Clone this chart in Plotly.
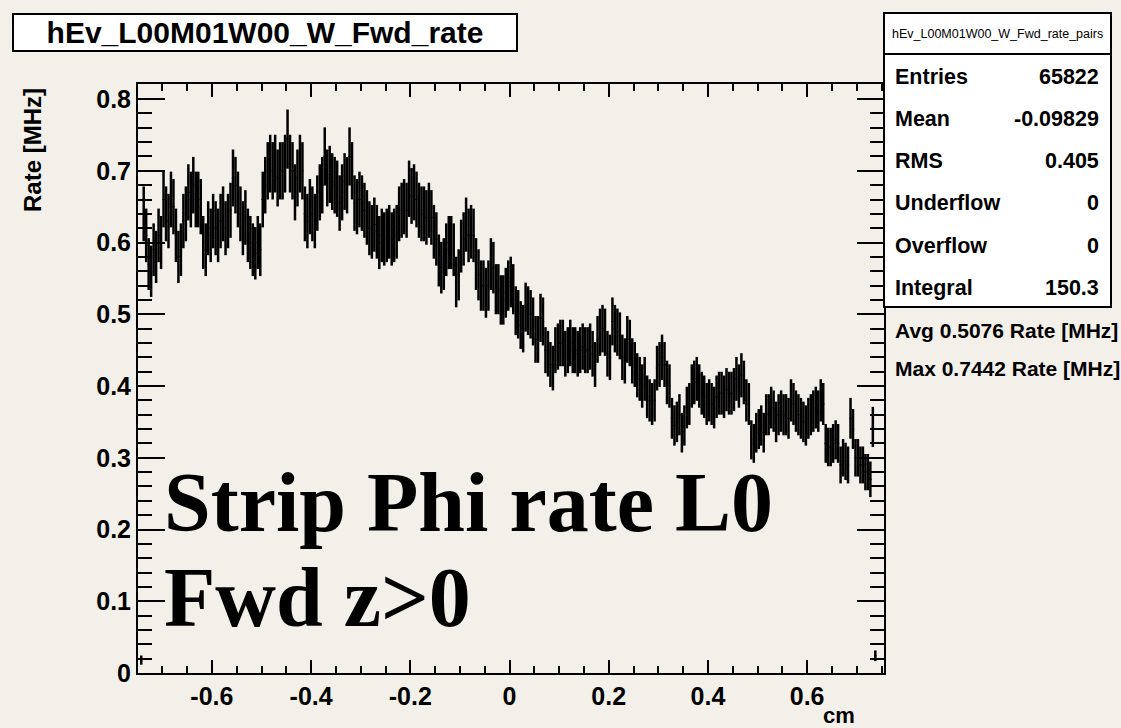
import numpy as np
import plotly.graph_objects as go

# ---- histogram definition ----
hist_name = "hEv_L00M01W00_W_Fwd_rate"
stats_name = "hEv_L00M01W00_W_Fwd_rate_pairs"
x_lo = -0.75
bin_width = 0.005
n_bins = 300

# bin contents (MHz), bin 0 .. bin 299
rate = [
    0.0, 0.018, 0.64, 0.61, 0.57, 0.56, 0.59, 0.58, 0.61, 0.60,
    0.66, 0.64, 0.63, 0.66, 0.65, 0.61, 0.58, 0.59, 0.63, 0.64,
    0.67, 0.66, 0.68, 0.66, 0.66, 0.65, 0.60, 0.59, 0.62, 0.61,
    0.63, 0.62, 0.61, 0.63, 0.64, 0.62, 0.63, 0.645, 0.69, 0.68,
    0.66, 0.64, 0.62, 0.635, 0.61, 0.60, 0.59, 0.585, 0.60, 0.59,
    0.66, 0.68, 0.70, 0.71, 0.70, 0.71, 0.69, 0.70, 0.70, 0.71,
    0.7442, 0.71, 0.70, 0.67, 0.69, 0.71, 0.70, 0.64, 0.63, 0.65,
    0.64, 0.63, 0.655, 0.67, 0.68, 0.72, 0.69, 0.695, 0.685, 0.68,
    0.675, 0.655, 0.67, 0.685, 0.68, 0.72, 0.70, 0.655, 0.65, 0.66,
    0.655, 0.645, 0.635, 0.62, 0.615, 0.625, 0.615, 0.60, 0.61, 0.605,
    0.61, 0.615, 0.605, 0.61, 0.615, 0.64, 0.645, 0.65, 0.645, 0.675,
    0.665, 0.67, 0.66, 0.645, 0.64, 0.64, 0.635, 0.645, 0.635, 0.615,
    0.605, 0.575, 0.565, 0.57, 0.59, 0.60, 0.60, 0.59, 0.545, 0.555,
    0.595, 0.605, 0.625, 0.61, 0.615, 0.61, 0.57, 0.555, 0.54, 0.54,
    0.53, 0.54, 0.57, 0.565, 0.535, 0.535, 0.52, 0.52, 0.53, 0.54,
    0.545, 0.535, 0.505, 0.50, 0.485, 0.48, 0.51, 0.505, 0.50, 0.49,
    0.465, 0.465, 0.495, 0.49, 0.45, 0.445, 0.43, 0.425, 0.45, 0.455,
    0.46, 0.46, 0.445, 0.45, 0.46, 0.45, 0.45, 0.445, 0.45, 0.455,
    0.45, 0.45, 0.455, 0.445, 0.43, 0.465, 0.475, 0.48, 0.475, 0.445,
    0.44, 0.49, 0.48, 0.475, 0.47, 0.44, 0.435, 0.465, 0.46, 0.435,
    0.43, 0.415, 0.41, 0.40, 0.41, 0.385, 0.38, 0.375, 0.38, 0.425,
    0.43, 0.44, 0.43, 0.405, 0.40, 0.355, 0.345, 0.35, 0.36, 0.335,
    0.345, 0.37, 0.375, 0.40, 0.405, 0.41, 0.40, 0.39, 0.385, 0.375,
    0.38, 0.375, 0.37, 0.385, 0.39, 0.39, 0.385, 0.395, 0.39, 0.39,
    0.395, 0.41, 0.40, 0.415, 0.405, 0.38, 0.375, 0.325, 0.32, 0.335,
    0.34, 0.345, 0.335, 0.36, 0.36, 0.37, 0.365, 0.35, 0.36, 0.365,
    0.36, 0.36, 0.355, 0.38, 0.375, 0.365, 0.36, 0.355, 0.35, 0.345,
    0.355, 0.36, 0.365, 0.37, 0.365, 0.38, 0.375, 0.32, 0.315, 0.315,
    0.32, 0.325, 0.32, 0.29, 0.30, 0.295, 0.29, 0.355, 0.34, 0.30,
    0.30, 0.29, 0.29, 0.28, 0.28, 0.27, 0.343, 0.024, 0.0, 0.0,
]

entries = 65822
integral = 150.3

stat_labels = ["Entries", "Mean", "RMS", "Underflow", "Overflow", "Integral"]
stat_values = ["65822", "-0.09829", "0.405", "0", "0", "150.3"]
summary_lines = ["Avg 0.5076 Rate [MHz]", "Max 0.7442 Rate [MHz]"]
caption_lines = ["Strip Phi rate L0", "Fwd z>0"]

x_tick_vals = [-0.6, -0.4, -0.2, 0.0, 0.2, 0.4, 0.6]
x_tick_text = ["-0.6", "-0.4", "-0.2", "0", "0.2", "0.4", "0.6"]
y_tick_vals = [0.0, 0.1, 0.2, 0.3, 0.4, 0.5, 0.6, 0.7, 0.8]
y_tick_text = ["0", "0.1", "0.2", "0.3", "0.4", "0.5", "0.6", "0.7", "0.8"]

x_range = [-0.749, 0.755]
y_range = [0.0, 0.821]

# ---- derived arrays ----
rate_arr = np.array(rate)
centers = x_lo + bin_width * (np.arange(n_bins) + 0.5)
# Poisson errors: each entry carries integral/entries of rate
err = np.sqrt(rate_arr * integral / entries)
filled = rate_arr > 0

# ---- page geometry ----
W, H = 1121, 728
L, R, T, B = 138, 884, 84, 673
BG = "#f3f0ea"


def px(xp):
    return (xp - L) / (R - L)


def py(yp):
    return (B - yp) / (B - T)


SANS = "Liberation Sans"
SERIF = "Liberation Serif"

fig = go.Figure()
fig.add_trace(go.Scatter(
    x=centers[filled], y=rate_arr[filled],
    mode="markers",
    marker=dict(size=1, color="black"),
    error_y=dict(type="data", array=err[filled], visible=True,
                 color="black", thickness=2.5, width=0),
    error_x=dict(type="constant", value=bin_width / 2, visible=True,
                 color="black", thickness=1, width=0),
    showlegend=False, hoverinfo="skip",
))
# empty trace so the mirrored tick axes are laid out
fig.add_trace(go.Scatter(x=[], y=[], xaxis="x2", yaxis="y2", showlegend=False))

axis_common = dict(showgrid=False, zeroline=False, ticks="inside",
                   tickcolor="black", tickwidth=2)
tick_font = dict(family=SANS, size=25, color="black", weight="bold")

fig.update_layout(
    width=W, height=H,
    margin=dict(l=L, r=W - R, t=T, b=H - B, pad=0),
    paper_bgcolor=BG, plot_bgcolor=BG,
    xaxis=dict(
        range=x_range, tickvals=x_tick_vals, ticktext=x_tick_text,
        ticklen=13, showline=True, linecolor="black", linewidth=2, mirror=True,
        minor=dict(dtick=0.05, tick0=0, ticks="inside", ticklen=7,
                   tickcolor="black", tickwidth=2),
        tickfont=tick_font,
        **axis_common,
    ),
    yaxis=dict(
        range=y_range, tickvals=y_tick_vals, ticktext=y_tick_text,
        ticklen=27, showline=True, linecolor="black", linewidth=2, mirror=True,
        minor=dict(dtick=0.02, tick0=0, ticks="inside", ticklen=14,
                   tickcolor="black", tickwidth=2),
        tickfont=tick_font,
        **axis_common,
    ),
    xaxis2=dict(
        overlaying="x", side="top", anchor="y", range=x_range,
        tickvals=x_tick_vals, showticklabels=False, ticklen=13,
        minor=dict(dtick=0.05, tick0=0, ticks="inside", ticklen=7,
                   tickcolor="black", tickwidth=2),
        **axis_common,
    ),
    yaxis2=dict(
        overlaying="y", side="right", anchor="x", range=y_range,
        tickvals=y_tick_vals, showticklabels=False, ticklen=27,
        minor=dict(dtick=0.02, tick0=0, ticks="inside", ticklen=14,
                   tickcolor="black", tickwidth=2),
        **axis_common,
    ),
)

annotations = []
# histogram title box
annotations.append(dict(
    x=px(265), y=py(32), xref="paper", yref="paper", showarrow=False,
    text=hist_name, xanchor="center", yanchor="middle",
    font=dict(family=SANS, size=30, color="black", weight="bold"),
    bgcolor="white", bordercolor="black", borderwidth=2, width=500, height=33,
))
# axis titles
annotations.append(dict(
    x=px(33), y=py(150), xref="paper", yref="paper", showarrow=False,
    text="Rate [MHz]", textangle=-90, xanchor="center", yanchor="middle",
    font=dict(family=SANS, size=24, color="black", weight="bold"),
))
annotations.append(dict(
    x=px(857), y=py(715), xref="paper", yref="paper", showarrow=False,
    text="cm", xanchor="right", yanchor="middle",
    font=dict(family=SANS, size=22, color="black", weight="bold"),
))

# statistics box
sx0, sx1, sy0, sy1, sep = 884, 1111, 13, 307, 54
shapes = [
    dict(type="rect", xref="paper", yref="paper",
         x0=px(sx0), x1=px(sx1), y0=py(sy1), y1=py(sy0),
         fillcolor="white", line=dict(color="black", width=2), layer="above"),
    dict(type="line", xref="paper", yref="paper",
         x0=px(sx0), x1=px(sx1), y0=py(sep), y1=py(sep),
         line=dict(color="black", width=2), layer="above"),
]
annotations.append(dict(
    x=px((sx0 + sx1) / 2), y=py(34), xref="paper", yref="paper", showarrow=False,
    text=stats_name, xanchor="center", yanchor="middle",
    font=dict(family=SANS, size=12.5, color="black"),
))
row_y = [77, 119, 161, 203, 246, 288]
stat_font = dict(family=SANS, size=21.5, color="black", weight="bold")
for lab, val, ry in zip(stat_labels, stat_values, row_y):
    annotations.append(dict(
        x=px(893), y=py(ry), xref="paper", yref="paper", showarrow=False,
        text=lab, xanchor="left", yanchor="middle", font=stat_font,
    ))
    annotations.append(dict(
        x=px(1101), y=py(ry), xref="paper", yref="paper", showarrow=False,
        text=val, xanchor="right", yanchor="middle", font=stat_font,
    ))
for line, ly in zip(summary_lines, [330, 368]):
    annotations.append(dict(
        x=px(893), y=py(ly), xref="paper", yref="paper", showarrow=False,
        text=line, xanchor="left", yanchor="middle",
        font=dict(family=SANS, size=21, color="black", weight="bold"),
    ))

# large caption over the plot
for txt, ty in zip(caption_lines, [502, 597]):
    annotations.append(dict(
        x=px(162), y=py(ty), xref="paper", yref="paper", showarrow=False,
        text=txt, xanchor="left", yanchor="middle",
        font=dict(family=SERIF, size=84, color="black", weight="bold"),
    ))

fig.update_layout(annotations=annotations, shapes=shapes)
fig.write_html("out.html")
